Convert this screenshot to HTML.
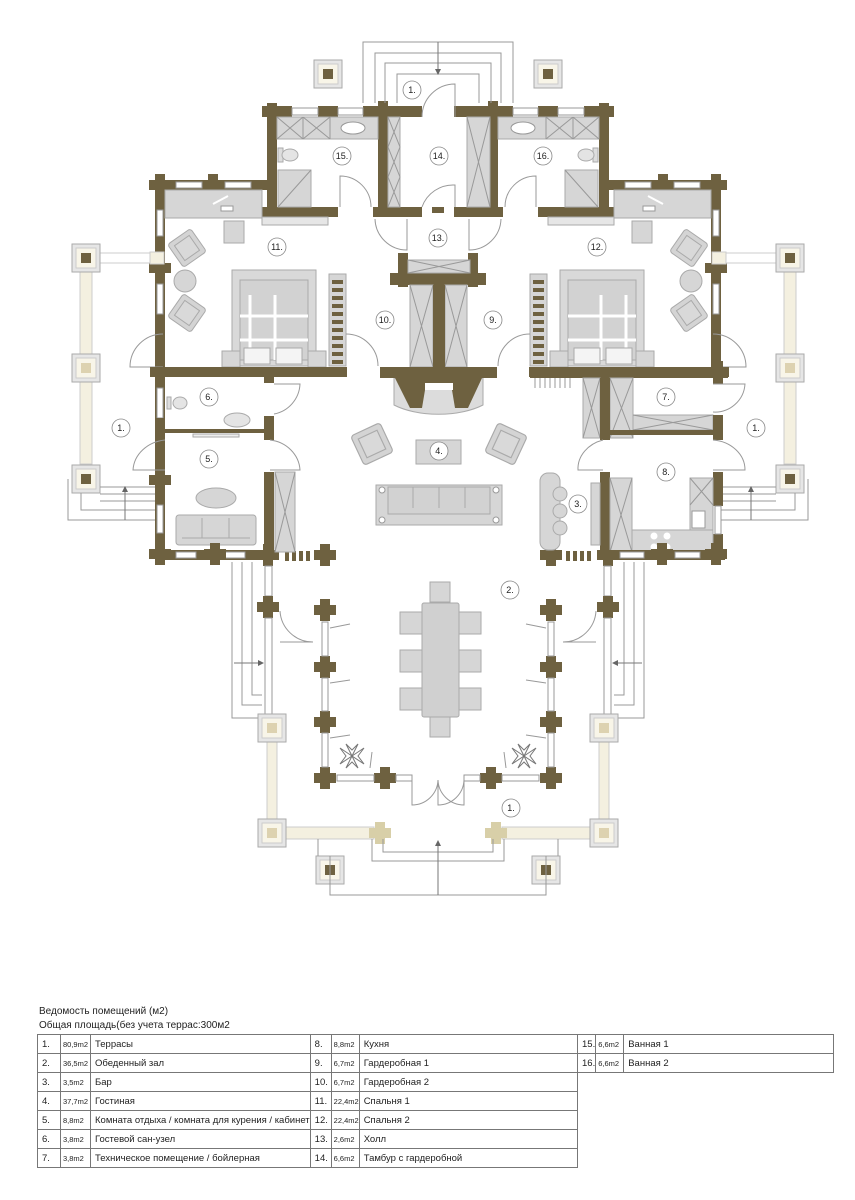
<!DOCTYPE html>
<html><head><meta charset="utf-8">
<style>
html,body{margin:0;padding:0;background:#fff;}
body{width:855px;height:1200px;position:relative;overflow:hidden;font-family:"Liberation Sans",Arial,sans-serif;}
svg{position:absolute;left:0;top:0;}
.h{position:absolute;left:39px;font-size:10px;color:#222;}
table{position:absolute;border-collapse:collapse;font-size:9.5px;color:#222;}
td{border:1px solid #777;height:18px;padding:0 0 0 4px;white-space:nowrap;}
td.a{font-size:7.5px;padding-left:2px;}
</style></head><body>
<svg width="855" height="1000" viewBox="0 0 855 1000" xmlns="http://www.w3.org/2000/svg">
<defs>
<path id="cr" d="M-5,-11h10v6h6v10h-6v6h-10v-6h-6v-10h6z" fill="#6e6140"/>
<path id="crb" d="M-5,-11h10v6h6v10h-6v6h-10v-6h-6v-10h6z" fill="#d8cfa8"/>
<g id="postD"><rect x="-14" y="-14" width="28" height="28" fill="#e6e6e6" stroke="#aaa"/><rect x="-10" y="-10" width="20" height="20" fill="#f8f5e8" stroke="#ccc"/><rect x="-5" y="-5" width="10" height="10" fill="#6e6140"/></g>
<g id="postL"><rect x="-14" y="-14" width="28" height="28" fill="#e6e6e6" stroke="#aaa"/><rect x="-10" y="-10" width="20" height="20" fill="#f8f5e8" stroke="#ccc"/><rect x="-5" y="-5" width="10" height="10" fill="#ddd2b0"/></g>
<g id="chair"><rect x="-14" y="-14" width="28" height="28" rx="3" fill="#d4d4d4" stroke="#aaa"/><rect x="-9" y="-9" width="18" height="18" fill="#d9d9d9" stroke="#aaa"/></g>
</defs>

<g id="half" stroke-width="1">
 <rect x="267" y="103" width="10" height="114" fill="#6e6140"/>
 <rect x="262" y="106" width="30" height="11" fill="#6e6140"/>
 <rect x="318" y="106" width="20" height="11" fill="#6e6140"/>
 <rect x="363" y="106" width="59" height="11" fill="#6e6140"/>
 <rect x="292" y="108" width="26" height="7" fill="#fff" stroke="#999"/>
 <rect x="338" y="108" width="25" height="7" fill="#fff" stroke="#999"/>
 <rect x="378" y="101" width="10" height="116" fill="#6e6140"/>
 <rect x="262" y="207" width="76" height="10" fill="#6e6140"/>
 <rect x="373" y="207" width="49" height="10" fill="#6e6140"/>
 <rect x="256" y="180" width="11" height="10" fill="#6e6140"/>
 <rect x="277" y="117" width="101" height="22" fill="#d6d6d6" stroke="#aaa"/>
 <path d="M277,117L303,139M303,117L277,139M303,117V139M303,117L330,139M330,117L303,139M330,117V139" stroke="#999" fill="none"/>
 <ellipse cx="353" cy="128" rx="12" ry="6" fill="#fff" stroke="#999"/>
 <rect x="278" y="148" width="5" height="14" fill="#ddd" stroke="#aaa"/>
 <ellipse cx="290" cy="155" rx="8" ry="6" fill="#e4e4e4" stroke="#aaa"/>
 <rect x="278" y="170" width="33" height="37" fill="#d6d6d6" stroke="#aaa"/>
 <path d="M278,207L311,170" stroke="#999"/>
 <path d="M340,207V176A31,31 0 0 1 371,207" fill="none" stroke="#999"/>
 <rect x="262" y="217" width="66" height="8" fill="#e6e6e6" stroke="#aaa"/>
 <path d="M375,219A32,32 0 0 0 407,250V219" fill="none" stroke="#999"/>
 <rect x="398" y="253" width="10" height="34" fill="#6e6140"/>
 <rect x="390" y="273" width="48" height="12" fill="#6e6140"/>
 <use href="#cr" x="160" y="185"/>
 <use href="#cr" x="213" y="185"/>
 <rect x="160" y="180" width="107" height="10" fill="#6e6140"/>
 <rect x="176" y="182" width="26" height="6" fill="#fff" stroke="#999"/>
 <rect x="225" y="182" width="26" height="6" fill="#fff" stroke="#999"/>
 <rect x="155" y="180" width="10" height="197" fill="#6e6140"/>
 <rect x="157" y="210" width="6" height="26" fill="#fff" stroke="#999"/>
 <rect x="157" y="284" width="6" height="30" fill="#fff" stroke="#999"/>
 <use href="#cr" x="160" y="268"/>
 <rect x="165" y="190" width="97" height="28" fill="#d6d6d6" stroke="#aaa"/>
 <path d="M213,204L228,196" stroke="#fff" stroke-width="2"/>
 <rect x="221" y="206" width="12" height="5" fill="#fff" stroke="#999"/>
 <rect x="224" y="221" width="20" height="22" fill="#d6d6d6" stroke="#aaa"/>
 <use href="#chair" transform="translate(187,248) rotate(-35)"/>
 <circle cx="185" cy="281" r="11" fill="#d6d6d6" stroke="#aaa"/>
 <use href="#chair" transform="translate(187,313) rotate(35)"/>
 <rect x="232" y="270" width="84" height="96" fill="#d9d9d9" stroke="#aaa"/>
 <rect x="240" y="280" width="68" height="80" fill="#d2d2d2" stroke="#aaa"/>
 <path d="M250,295V360M275,295V360M240,316H308M240,340H308" stroke="#fff" stroke-width="3"/>
 <rect x="244" y="348" width="26" height="16" fill="#f4f4f4" stroke="#aaa"/>
 <rect x="276" y="348" width="26" height="16" fill="#f4f4f4" stroke="#aaa"/>
 <rect x="222" y="351" width="18" height="16" fill="#d6d6d6" stroke="#aaa"/>
 <rect x="308" y="351" width="18" height="16" fill="#d6d6d6" stroke="#aaa"/>
 <rect x="329" y="274" width="17" height="92" fill="#d6d6d6" stroke="#aaa"/>
 <g fill="#6e6140"><rect x="332" y="280" width="11" height="4"/><rect x="332" y="288" width="11" height="4"/><rect x="332" y="296" width="11" height="4"/><rect x="332" y="304" width="11" height="4"/><rect x="332" y="312" width="11" height="4"/><rect x="332" y="320" width="11" height="4"/><rect x="332" y="328" width="11" height="4"/><rect x="332" y="336" width="11" height="4"/><rect x="332" y="344" width="11" height="4"/><rect x="332" y="352" width="11" height="4"/><rect x="332" y="360" width="11" height="4"/></g>
 <path d="M346,334A32,32 0 0 1 378,366" fill="none" stroke="#999"/>
 <path d="M163,334A33,33 0 0 0 130,367H163" fill="none" stroke="#999"/>
 <rect x="150" y="367" width="197" height="10" fill="#6e6140"/>
 <rect x="80" y="272" width="12" height="192" fill="#f4f0e0" stroke="#ccc"/>
 <rect x="150" y="252" width="14" height="12" fill="#f4f0e0" stroke="#ccc"/>
 <rect x="92" y="253" width="58" height="10" fill="#fff" stroke="#ccc"/>
 <use href="#postD" x="86" y="258"/>
 <use href="#postL" x="86" y="368"/>
 <use href="#postD" x="86" y="479"/>
 <path d="M100,487H155M100,494H155M100,501H155M81,493V510H155M68,479V520H155" fill="none" stroke="#999"/>
 <path d="M125,520V488" stroke="#777"/><path d="M122,492L125,486L128,492Z" fill="#666"/>
 <use href="#cr" x="268" y="555"/>
 <use href="#cr" x="325" y="555"/>
 <g fill="#6e6140"><rect x="285" y="551" width="4" height="10"/><rect x="292" y="551" width="4" height="10"/><rect x="299" y="551" width="4" height="10"/><rect x="306" y="551" width="4" height="10"/></g>
 <rect x="265" y="566" width="7" height="30" fill="#fff" stroke="#999"/>
 <use href="#cr" x="268" y="607"/>
 <rect x="265" y="618" width="7" height="100" fill="#fff" stroke="#999"/>
 <path d="M280,611A33,33 0 0 0 313,642H280" fill="none" stroke="#999"/>
 <path d="M232,562V718H262M242,562V705H262M252,562V695H262" fill="none" stroke="#999"/>
 <path d="M234,663H262" stroke="#777"/><path d="M258,660L264,663L258,666Z" fill="#666"/>
 <use href="#cr" x="325" y="610"/>
 <use href="#cr" x="325" y="667"/>
 <use href="#cr" x="325" y="722"/>
 <use href="#cr" x="325" y="778"/>
 <use href="#cr" x="385" y="778"/>
 <rect x="322" y="622" width="6" height="34" fill="#fff" stroke="#999"/>
 <rect x="322" y="678" width="6" height="33" fill="#fff" stroke="#999"/>
 <rect x="322" y="733" width="6" height="34" fill="#fff" stroke="#999"/>
 <rect x="337" y="775" width="37" height="6" fill="#fff" stroke="#999"/>
 <rect x="396" y="775" width="16" height="6" fill="#fff" stroke="#999"/>
 <path d="M330,628L350,624M330,683L350,680M330,738L350,735M370,768L372,752" stroke="#999"/>
 <g transform="translate(352,756)" fill="#fff" stroke="#777"><path d="M0,0L-12,-8L-6,0L-12,8Z"/><path d="M0,0L12,-8L6,0L12,8Z"/><path d="M0,0L-6,-12L0,-6L6,-12Z"/><path d="M0,0L-6,12L0,6L6,12Z"/></g>
 <path d="M412,781V805A26,26 0 0 0 438,780" fill="none" stroke="#999"/>
 <rect x="267" y="742" width="10" height="78" fill="#f4f0e0" stroke="#ccc"/>
 <rect x="286" y="827" width="88" height="12" fill="#f4f0e0" stroke="#ccc"/>
 <use href="#postL" x="272" y="728"/>
 <use href="#postL" x="272" y="833"/>
 <use href="#crb" x="380" y="833"/>
 <use href="#postD" x="330" y="870"/>
 <path d="M318,839V856M372,839V861H438M383,839V852H438M330,856V895H438" fill="none" stroke="#999"/>
 <path d="M363,103V42H438M375,103V53H438M385,103V63H438M397,103V74H438" fill="none" stroke="#999"/>
</g>
<use href="#half" transform="translate(876,0) scale(-1,1)"/>

<use href="#postD" x="328" y="74"/>
<use href="#postD" x="548" y="74"/>
<path d="M438,42V72" stroke="#777"/><path d="M435,69L438,75L441,69Z" fill="#666"/>
<path d="M438,895V842" stroke="#777"/><path d="M435,846L438,840L441,846Z" fill="#666"/>

<rect x="388" y="117" width="12" height="90" fill="#d6d6d6" stroke="#aaa"/>
<path d="M388,117L400,147L388,177L400,207M400,117L388,147L400,177L388,207" stroke="#999" fill="none"/>
<rect x="467" y="117" width="23" height="90" fill="#d6d6d6" stroke="#aaa"/>
<path d="M467,117L490,207M490,117L467,207" stroke="#999"/>
<path d="M455,117V84A33,33 0 0 0 422,117" fill="none" stroke="#999"/>
<path d="M455,207V185A33,33 0 0 0 422,207" fill="none" stroke="#999"/>
<rect x="432" y="207" width="12" height="6" fill="#6e6140"/>

<rect x="408" y="260" width="62" height="13" fill="#d6d6d6" stroke="#aaa"/>
<path d="M408,260L470,273M470,260L408,273" stroke="#999"/>
<rect x="410" y="285" width="23" height="82" fill="#d6d6d6" stroke="#aaa"/>
<rect x="445" y="285" width="22" height="82" fill="#d6d6d6" stroke="#aaa"/>
<path d="M410,285L433,367M433,285L410,367M445,285L467,367M467,285L445,367" stroke="#999"/>
<rect x="433" y="285" width="12" height="83" fill="#6e6140"/>
<path d="M394,378H483V405A60,28 0 0 1 394,405Z" fill="#dcdcdc" stroke="#aaa"/>
<rect x="380" y="367" width="117" height="11" fill="#6e6140"/>
<path d="M395,378H482L468,408H455L452,390H425L422,408H410Z" fill="#6e6140"/>
<rect x="425" y="383" width="28" height="7" fill="#fff"/>

<use href="#chair" transform="translate(372,444) rotate(-25) scale(1.15)"/>
<use href="#chair" transform="translate(506,444) rotate(25) scale(1.15)"/>
<rect x="416" y="440" width="45" height="24" fill="#d6d6d6" stroke="#aaa"/>
<rect x="376" y="485" width="126" height="40" fill="#d6d6d6" stroke="#aaa"/>
<rect x="388" y="487" width="102" height="27" fill="#d2d2d2" stroke="#aaa"/>
<path d="M413,487V508M439,487V508M465,487V508" stroke="#aaa"/>
<circle cx="382" cy="490" r="3" fill="#fff" stroke="#999"/><circle cx="496" cy="490" r="3" fill="#fff" stroke="#999"/>
<circle cx="382" cy="520" r="3" fill="#fff" stroke="#999"/><circle cx="496" cy="520" r="3" fill="#fff" stroke="#999"/>

<rect x="155" y="377" width="10" height="183" fill="#6e6140"/>
<rect x="157" y="388" width="6" height="30" fill="#fff" stroke="#999"/>
<rect x="157" y="505" width="6" height="28" fill="#fff" stroke="#999"/>
<rect x="155" y="418" width="10" height="22" fill="#6e6140"/>
<use href="#cr" x="160" y="480"/>
<rect x="165" y="429" width="103" height="4" fill="#6e6140"/>
<rect x="264" y="377" width="10" height="6" fill="#6e6140"/>
<rect x="264" y="416" width="10" height="24" fill="#6e6140"/>
<rect x="193" y="434" width="46" height="3" fill="#eee" stroke="#aaa"/>
<rect x="167" y="397" width="4" height="12" fill="#ddd" stroke="#aaa"/>
<ellipse cx="180" cy="403" rx="7" ry="6" fill="#e4e4e4" stroke="#aaa"/>
<ellipse cx="237" cy="420" rx="13" ry="7" fill="#e4e4e4" stroke="#aaa"/>
<path d="M274,384H300A32,32 0 0 1 274,414" fill="none" stroke="#999"/>
<path d="M165,440A36,32 0 0 0 133,470H165" fill="none" stroke="#999"/>
<path d="M270,440A34,32 0 0 1 300,470H270" fill="none" stroke="#999"/>
<rect x="264" y="472" width="10" height="88" fill="#6e6140"/>
<rect x="275" y="472" width="20" height="80" fill="#d6d6d6" stroke="#aaa"/>
<path d="M275,472L295,552M295,472L275,552" stroke="#999"/>
<ellipse cx="216" cy="498" rx="20" ry="10" fill="#d6d6d6" stroke="#aaa"/>
<rect x="176" y="515" width="80" height="30" rx="3" fill="#d6d6d6" stroke="#aaa"/>
<path d="M202,518V538M229,518V538M182,538H250" stroke="#aaa" fill="none"/>
<rect x="155" y="550" width="117" height="10" fill="#6e6140"/>
<rect x="176" y="552" width="20" height="6" fill="#fff" stroke="#999"/>
<rect x="225" y="552" width="20" height="6" fill="#fff" stroke="#999"/>
<use href="#cr" x="215" y="554"/>
<use href="#cr" x="160" y="554"/>

<rect x="530" y="367" width="198" height="11" fill="#6e6140"/>
<use href="#cr" x="718" y="372"/>
<path d="M535,378V388M540,378V388M545,378V388M550,378V388M555,378V388M560,378V388M565,378V388M570,378V388" stroke="#999"/>
<rect x="583" y="378" width="17" height="60" fill="#d6d6d6" stroke="#aaa"/>
<rect x="610" y="378" width="23" height="60" fill="#d6d6d6" stroke="#aaa"/>
<path d="M583,378L600,438M600,378L583,438M610,378L633,438M633,378L610,438" stroke="#999"/>
<rect x="600" y="378" width="10" height="62" fill="#6e6140"/>
<rect x="633" y="415" width="80" height="15" fill="#d6d6d6" stroke="#aaa"/>
<path d="M633,415L713,430M713,415L633,430" stroke="#999"/>
<rect x="610" y="430" width="103" height="5" fill="#6e6140"/>
<rect x="713" y="415" width="10" height="25" fill="#6e6140"/>
<rect x="713" y="378" width="10" height="6" fill="#6e6140"/>
<path d="M713,384H745A30,30 0 0 1 713,412" fill="none" stroke="#999"/>
<path d="M603,440A35,30 0 0 0 578,470H603" fill="none" stroke="#999"/>
<path d="M713,440A35,30 0 0 1 745,470H713" fill="none" stroke="#999"/>
<rect x="600" y="472" width="10" height="88" fill="#6e6140"/>
<rect x="591" y="483" width="9" height="62" fill="#d6d6d6" stroke="#aaa"/>
<rect x="713" y="472" width="10" height="34" fill="#6e6140"/>
<rect x="713" y="534" width="10" height="26" fill="#6e6140"/>
<rect x="715" y="506" width="6" height="28" fill="#fff" stroke="#999"/>
<rect x="610" y="478" width="22" height="74" fill="#d6d6d6" stroke="#aaa"/>
<rect x="632" y="530" width="81" height="22" fill="#d6d6d6" stroke="#aaa"/>
<rect x="690" y="478" width="23" height="52" fill="#d6d6d6" stroke="#aaa"/>
<path d="M610,478L632,552M632,478L610,552M690,478L713,505M713,478L690,505" stroke="#999"/>
<rect x="692" y="511" width="13" height="17" fill="#fff" stroke="#999"/>
<circle cx="654" cy="536" r="3.5" fill="#fff"/><circle cx="667" cy="536" r="3.5" fill="#fff"/>
<circle cx="654" cy="547" r="3.5" fill="#fff"/><circle cx="667" cy="547" r="3.5" fill="#fff"/>
<rect x="540" y="473" width="20" height="77" rx="8" fill="#d6d6d6" stroke="#aaa"/>
<circle cx="560" cy="494" r="7" fill="#d6d6d6" stroke="#aaa"/>
<circle cx="560" cy="511" r="7" fill="#d6d6d6" stroke="#aaa"/>
<circle cx="560" cy="528" r="7" fill="#d6d6d6" stroke="#aaa"/>
<rect x="600" y="550" width="125" height="10" fill="#6e6140"/>
<rect x="620" y="552" width="24" height="6" fill="#fff" stroke="#999"/>
<rect x="675" y="552" width="25" height="6" fill="#fff" stroke="#999"/>
<use href="#cr" x="662" y="554"/>
<use href="#cr" x="716" y="554"/>

<rect x="430" y="582" width="20" height="20" fill="#d6d6d6" stroke="#aaa"/>
<rect x="430" y="717" width="20" height="20" fill="#d6d6d6" stroke="#aaa"/>
<g fill="#d6d6d6" stroke="#aaa">
<rect x="400" y="612" width="24" height="22"/><rect x="400" y="650" width="24" height="22"/><rect x="400" y="688" width="24" height="22"/>
<rect x="457" y="612" width="24" height="22"/><rect x="457" y="650" width="24" height="22"/><rect x="457" y="688" width="24" height="22"/>
</g>
<rect x="422" y="603" width="37" height="114" rx="2" fill="#d0d0d0" stroke="#aaa"/>
<path d="M438,781V805A26,26 0 0 0 464,780" fill="none" stroke="#999"/>

<g font-size="9" text-anchor="middle" fill="#222" stroke-width="0.8">
<g stroke="#888" fill="#fff">
<circle cx="412" cy="90" r="9"/><circle cx="439" cy="156" r="9"/><circle cx="342" cy="156" r="9"/><circle cx="543" cy="156" r="9"/>
<circle cx="438" cy="238" r="9"/><circle cx="277" cy="247" r="9"/><circle cx="597" cy="247" r="9"/><circle cx="385" cy="320" r="9"/>
<circle cx="493" cy="320" r="9"/><circle cx="121" cy="428" r="9"/><circle cx="209" cy="397" r="9"/><circle cx="666" cy="397" r="9"/>
<circle cx="756" cy="428" r="9"/><circle cx="439" cy="451" r="9"/><circle cx="209" cy="459" r="9"/><circle cx="666" cy="472" r="9"/>
<circle cx="578" cy="504" r="9"/><circle cx="510" cy="590" r="9"/><circle cx="511" cy="808" r="9"/>
</g>
<text x="412" y="93">1.</text><text x="439" y="159">14.</text><text x="342" y="159">15.</text><text x="543" y="159">16.</text>
<text x="438" y="241">13.</text><text x="277" y="250">11.</text><text x="597" y="250">12.</text><text x="385" y="323">10.</text>
<text x="493" y="323">9.</text><text x="121" y="431">1.</text><text x="209" y="400">6.</text><text x="666" y="400">7.</text>
<text x="756" y="431">1.</text><text x="439" y="454">4.</text><text x="209" y="462">5.</text><text x="666" y="475">8.</text>
<text x="578" y="507">3.</text><text x="510" y="593">2.</text><text x="511" y="811">1.</text>
</g>
</svg>

<div class="h" style="top:1006px;">Ведомость помещений (м2)</div>
<div class="h" style="top:1020px;">Общая площадь(без учета террас:300м2</div>

<table style="left:37px;top:1034px;width:541px;">
<colgroup><col style="width:23px"><col style="width:30px"><col style="width:207px"><col style="width:21px"><col style="width:27px"><col></colgroup>
<tr><td>1.</td><td class="a">80,9m2</td><td>Террасы</td><td>8.</td><td class="a">8,8m2</td><td>Кухня</td></tr>
<tr><td>2.</td><td class="a">36,5m2</td><td>Обеденный зал</td><td>9.</td><td class="a">6,7m2</td><td>Гардеробная 1</td></tr>
<tr><td>3.</td><td class="a">3,5m2</td><td>Бар</td><td>10.</td><td class="a">6,7m2</td><td>Гардеробная 2</td></tr>
<tr><td>4.</td><td class="a">37,7m2</td><td>Гостиная</td><td>11.</td><td class="a">22,4m2</td><td>Спальня 1</td></tr>
<tr><td>5.</td><td class="a">8,8m2</td><td>Комната отдыха / комната для курения / кабинет</td><td>12.</td><td class="a">22,4m2</td><td>Спальня 2</td></tr>
<tr><td>6.</td><td class="a">3,8m2</td><td>Гостевой сан-узел</td><td>13.</td><td class="a">2,6m2</td><td>Холл</td></tr>
<tr><td>7.</td><td class="a">3,8m2</td><td>Техническое помещение / бойлерная</td><td>14.</td><td class="a">6,6m2</td><td>Тамбур с гардеробной</td></tr>
</table>
<table style="left:577px;top:1034px;width:257px;">
<colgroup><col style="width:16px"><col style="width:28px"><col></colgroup>
<tr><td>15.</td><td class="a">6,6m2</td><td>Ванная 1</td></tr>
<tr><td>16.</td><td class="a">6,6m2</td><td>Ванная 2</td></tr>
</table>
</body></html>
